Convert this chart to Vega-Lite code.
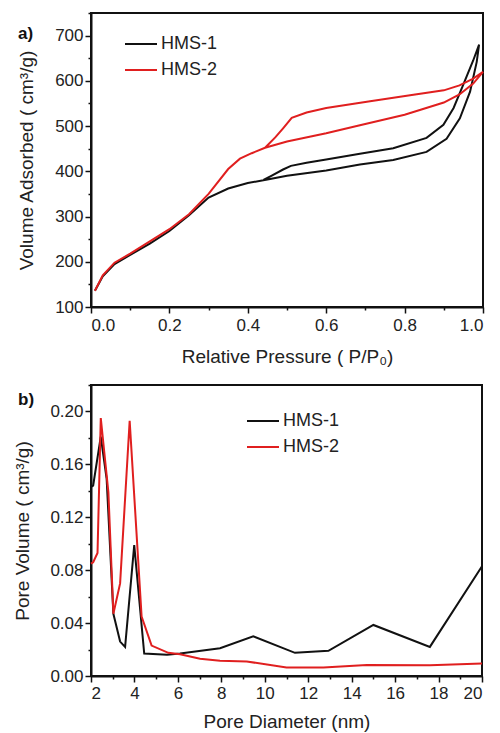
{
  "$schema": "https://vega.github.io/schema/vega-lite/v6.json",
  "background": "white",
  "padding": {"left": 12, "top": 11, "right": 0, "bottom": 0},
  "spacing": 16,
  "resolve": {"scale": {"color": "independent"}, "legend": {"color": "independent"}},
  "config": {
    "font": "Liberation Sans",
    "view": {"stroke": "#111", "strokeWidth": 2},
    "axis": {
      "domainColor": "#111", "domainWidth": 2, "tickColor": "#111", "tickWidth": 1.5, "tickSize": 6,
      "labelFontSize": 17, "titleFontSize": 19, "labelColor": "#222", "titleColor": "#222",
      "titleFontWeight": "normal", "grid": false, "labelFont": "Liberation Sans", "titleFont": "Liberation Sans",
      "labelPadding": 2
    },
    "legend": {
      "labelFontSize": 18, "labelColor": "#222", "labelFont": "Liberation Sans",
      "symbolType": "stroke", "symbolSize": 1024, "symbolStrokeWidth": 2, "rowPadding": -7, "labelOffset": 3, "padding": 0
    },
    "title": {"fontSize": 17, "fontWeight": "bold", "color": "#111", "font": "Liberation Sans"}
  },
  "datasets": {
    "iso": [
      {"sample": "HMS-1", "i": 1, "p": 0.01, "v": 136},
      {"sample": "HMS-1", "i": 2, "p": 0.03, "v": 168},
      {"sample": "HMS-1", "i": 3, "p": 0.06, "v": 195},
      {"sample": "HMS-1", "i": 4, "p": 0.1, "v": 215},
      {"sample": "HMS-1", "i": 5, "p": 0.15, "v": 240},
      {"sample": "HMS-1", "i": 6, "p": 0.2, "v": 268},
      {"sample": "HMS-1", "i": 7, "p": 0.25, "v": 303},
      {"sample": "HMS-1", "i": 8, "p": 0.3, "v": 342},
      {"sample": "HMS-1", "i": 9, "p": 0.35, "v": 362},
      {"sample": "HMS-1", "i": 10, "p": 0.4, "v": 374},
      {"sample": "HMS-1", "i": 11, "p": 0.45, "v": 382},
      {"sample": "HMS-1", "i": 12, "p": 0.5, "v": 390},
      {"sample": "HMS-1", "i": 13, "p": 0.6, "v": 402},
      {"sample": "HMS-1", "i": 14, "p": 0.686, "v": 415},
      {"sample": "HMS-1", "i": 15, "p": 0.771, "v": 425},
      {"sample": "HMS-1", "i": 16, "p": 0.856, "v": 443},
      {"sample": "HMS-1", "i": 17, "p": 0.907, "v": 472},
      {"sample": "HMS-1", "i": 18, "p": 0.941, "v": 517},
      {"sample": "HMS-1", "i": 19, "p": 0.967, "v": 576},
      {"sample": "HMS-1", "i": 20, "p": 0.984, "v": 642},
      {"sample": "HMS-1", "i": 21, "p": 0.99, "v": 680},
      {"sample": "HMS-1", "i": 22, "p": 0.975, "v": 645},
      {"sample": "HMS-1", "i": 23, "p": 0.95, "v": 592},
      {"sample": "HMS-1", "i": 24, "p": 0.925, "v": 540},
      {"sample": "HMS-1", "i": 25, "p": 0.899, "v": 503},
      {"sample": "HMS-1", "i": 26, "p": 0.856, "v": 474},
      {"sample": "HMS-1", "i": 27, "p": 0.771, "v": 451},
      {"sample": "HMS-1", "i": 28, "p": 0.686, "v": 439},
      {"sample": "HMS-1", "i": 29, "p": 0.6, "v": 426},
      {"sample": "HMS-1", "i": 30, "p": 0.55, "v": 419},
      {"sample": "HMS-1", "i": 31, "p": 0.51, "v": 412},
      {"sample": "HMS-1", "i": 32, "p": 0.49, "v": 404},
      {"sample": "HMS-1", "i": 33, "p": 0.46, "v": 390},
      {"sample": "HMS-1", "i": 34, "p": 0.44, "v": 381},
      {"sample": "HMS-2", "i": 1, "p": 0.01, "v": 136},
      {"sample": "HMS-2", "i": 2, "p": 0.03, "v": 170},
      {"sample": "HMS-2", "i": 3, "p": 0.06, "v": 198},
      {"sample": "HMS-2", "i": 4, "p": 0.1, "v": 218},
      {"sample": "HMS-2", "i": 5, "p": 0.15, "v": 245},
      {"sample": "HMS-2", "i": 6, "p": 0.2, "v": 272},
      {"sample": "HMS-2", "i": 7, "p": 0.25, "v": 305},
      {"sample": "HMS-2", "i": 8, "p": 0.3, "v": 350},
      {"sample": "HMS-2", "i": 9, "p": 0.35, "v": 405},
      {"sample": "HMS-2", "i": 10, "p": 0.38, "v": 428},
      {"sample": "HMS-2", "i": 11, "p": 0.41, "v": 440},
      {"sample": "HMS-2", "i": 12, "p": 0.444, "v": 452},
      {"sample": "HMS-2", "i": 13, "p": 0.5, "v": 466},
      {"sample": "HMS-2", "i": 14, "p": 0.6, "v": 484},
      {"sample": "HMS-2", "i": 15, "p": 0.686, "v": 502},
      {"sample": "HMS-2", "i": 16, "p": 0.8, "v": 525},
      {"sample": "HMS-2", "i": 17, "p": 0.9, "v": 552},
      {"sample": "HMS-2", "i": 18, "p": 0.94, "v": 570},
      {"sample": "HMS-2", "i": 19, "p": 0.975, "v": 594},
      {"sample": "HMS-2", "i": 20, "p": 1.0, "v": 620},
      {"sample": "HMS-2", "i": 21, "p": 0.975, "v": 605},
      {"sample": "HMS-2", "i": 22, "p": 0.94, "v": 590},
      {"sample": "HMS-2", "i": 23, "p": 0.9, "v": 579},
      {"sample": "HMS-2", "i": 24, "p": 0.814, "v": 568},
      {"sample": "HMS-2", "i": 25, "p": 0.712, "v": 555},
      {"sample": "HMS-2", "i": 26, "p": 0.6, "v": 540},
      {"sample": "HMS-2", "i": 27, "p": 0.55, "v": 530},
      {"sample": "HMS-2", "i": 28, "p": 0.512, "v": 518},
      {"sample": "HMS-2", "i": 29, "p": 0.49, "v": 495},
      {"sample": "HMS-2", "i": 30, "p": 0.47, "v": 475},
      {"sample": "HMS-2", "i": 31, "p": 0.444, "v": 452}
    ],
    "psd": [
      {"sample": "HMS-1", "d": 2.0, "pv": 0.143},
      {"sample": "HMS-1", "d": 2.1, "pv": 0.144},
      {"sample": "HMS-1", "d": 2.45, "pv": 0.181},
      {"sample": "HMS-1", "d": 2.72, "pv": 0.149},
      {"sample": "HMS-1", "d": 3.03, "pv": 0.047},
      {"sample": "HMS-1", "d": 3.34, "pv": 0.026},
      {"sample": "HMS-1", "d": 3.57, "pv": 0.022},
      {"sample": "HMS-1", "d": 3.99, "pv": 0.099},
      {"sample": "HMS-1", "d": 4.45, "pv": 0.017},
      {"sample": "HMS-1", "d": 5.5, "pv": 0.016},
      {"sample": "HMS-1", "d": 6.1, "pv": 0.017},
      {"sample": "HMS-1", "d": 7.94, "pv": 0.021},
      {"sample": "HMS-1", "d": 9.47, "pv": 0.030},
      {"sample": "HMS-1", "d": 11.39, "pv": 0.0175},
      {"sample": "HMS-1", "d": 12.93, "pv": 0.019},
      {"sample": "HMS-1", "d": 15.0, "pv": 0.0386},
      {"sample": "HMS-1", "d": 17.6, "pv": 0.022},
      {"sample": "HMS-1", "d": 20.0, "pv": 0.083},
      {"sample": "HMS-2", "d": 2.0, "pv": 0.085},
      {"sample": "HMS-2", "d": 2.1, "pv": 0.086},
      {"sample": "HMS-2", "d": 2.3, "pv": 0.093},
      {"sample": "HMS-2", "d": 2.45, "pv": 0.195},
      {"sample": "HMS-2", "d": 2.8, "pv": 0.139},
      {"sample": "HMS-2", "d": 3.03, "pv": 0.047},
      {"sample": "HMS-2", "d": 3.34, "pv": 0.070},
      {"sample": "HMS-2", "d": 3.78, "pv": 0.193},
      {"sample": "HMS-2", "d": 4.33, "pv": 0.045},
      {"sample": "HMS-2", "d": 4.79, "pv": 0.023},
      {"sample": "HMS-2", "d": 5.56, "pv": 0.0175},
      {"sample": "HMS-2", "d": 6.1, "pv": 0.0165},
      {"sample": "HMS-2", "d": 7.02, "pv": 0.013},
      {"sample": "HMS-2", "d": 7.94, "pv": 0.0115},
      {"sample": "HMS-2", "d": 9.17, "pv": 0.011},
      {"sample": "HMS-2", "d": 11.0, "pv": 0.0064},
      {"sample": "HMS-2", "d": 12.7, "pv": 0.0064},
      {"sample": "HMS-2", "d": 14.7, "pv": 0.0084},
      {"sample": "HMS-2", "d": 17.6, "pv": 0.0082},
      {"sample": "HMS-2", "d": 20.0, "pv": 0.0095}
    ]
  },
  "vconcat": [
    {
      "width": 392,
      "height": 294,
      "title": {"text": "a)", "anchor": "start", "frame": "group", "dx": -73, "dy": 35},
      "data": {"name": "iso"},
      "resolve": {"axis": {"x": "independent", "y": "independent"}},
      "layer": [
        {
          "mark": {"type": "line", "strokeWidth": 2},
          "encoding": {
            "x": {
              "field": "p", "type": "quantitative",
              "scale": {"domain": [0, 1], "nice": false},
              "axis": {
                "orient": "bottom",
                "title": "Relative Pressure ( P/P₀)",
                "values": [0, 0.2, 0.4, 0.6, 0.8, 1.0],
                "format": ".1f",
                "labelPadding": 4,
                "titlePadding": 14
              }
            },
            "y": {
              "field": "v", "type": "quantitative",
              "scale": {"domain": [100, 750], "nice": false},
              "axis": {
                "orient": "left",
                "title": "Volume Adsorbed ( cm³/g)",
                "values": [100, 200, 300, 400, 500, 600, 700],
                "titlePadding": 18
              }
            },
            "color": {
              "field": "sample", "type": "nominal",
              "scale": {"domain": ["HMS-1", "HMS-2"], "range": ["#111111", "#e01f1f"]},
              "legend": {"title": null, "orient": "none", "legendX": 33, "legendY": 14}
            },
            "order": {"field": "i", "type": "quantitative"}
          }
        },
        {
          "mark": {"type": "line", "opacity": 0},
          "encoding": {
            "x": {
              "field": "p", "type": "quantitative",
              "axis": {"orient": "bottom", "title": null, "labels": false, "domain": false, "tickSize": 3, "values": [0.1, 0.3, 0.5, 0.7, 0.9]}
            },
            "y": {
              "field": "v", "type": "quantitative",
              "axis": {"orient": "left", "title": null, "labels": false, "domain": false, "tickSize": 3, "values": [150, 250, 350, 450, 550, 650, 750]}
            },
            "detail": {"field": "sample"},
            "order": {"field": "i", "type": "quantitative"}
          }
        }
      ]
    },
    {
      "width": 391,
      "height": 291,
      "title": {"text": "b)", "anchor": "start", "frame": "group", "dx": -73, "dy": 29},
      "data": {"name": "psd"},
      "resolve": {"axis": {"x": "independent", "y": "independent"}},
      "layer": [
        {
          "mark": {"type": "line", "strokeWidth": 2},
          "encoding": {
            "x": {
              "field": "d", "type": "quantitative",
              "scale": {"domain": [2, 20], "nice": false},
              "axis": {
                "orient": "bottom",
                "title": "Pore Diameter (nm)",
                "values": [2, 4, 6, 8, 10, 12, 14, 16, 18, 20],
                "labelPadding": 3,
                "titlePadding": 11
              }
            },
            "y": {
              "field": "pv", "type": "quantitative",
              "scale": {"domain": [0, 0.22], "nice": false},
              "axis": {
                "orient": "left",
                "title": "Pore Volume ( cm³/g)",
                "values": [0, 0.04, 0.08, 0.12, 0.16, 0.2],
                "format": ".2f",
                "titlePadding": 17
              }
            },
            "color": {
              "field": "sample", "type": "nominal",
              "scale": {"domain": ["HMS-1", "HMS-2"], "range": ["#111111", "#e01f1f"]},
              "legend": {"title": null, "orient": "none", "legendX": 155, "legendY": 19}
            }
          }
        },
        {
          "mark": {"type": "line", "opacity": 0},
          "encoding": {
            "x": {
              "field": "d", "type": "quantitative",
              "axis": {"orient": "bottom", "title": null, "labels": false, "domain": false, "tickSize": 3, "values": [3, 5, 7, 9, 11, 13, 15, 17, 19]}
            },
            "y": {
              "field": "pv", "type": "quantitative",
              "axis": {"orient": "left", "title": null, "labels": false, "domain": false, "tickSize": 3, "values": [0.02, 0.06, 0.1, 0.14, 0.18, 0.22]}
            },
            "detail": {"field": "sample"}
          }
        }
      ]
    }
  ]
}
